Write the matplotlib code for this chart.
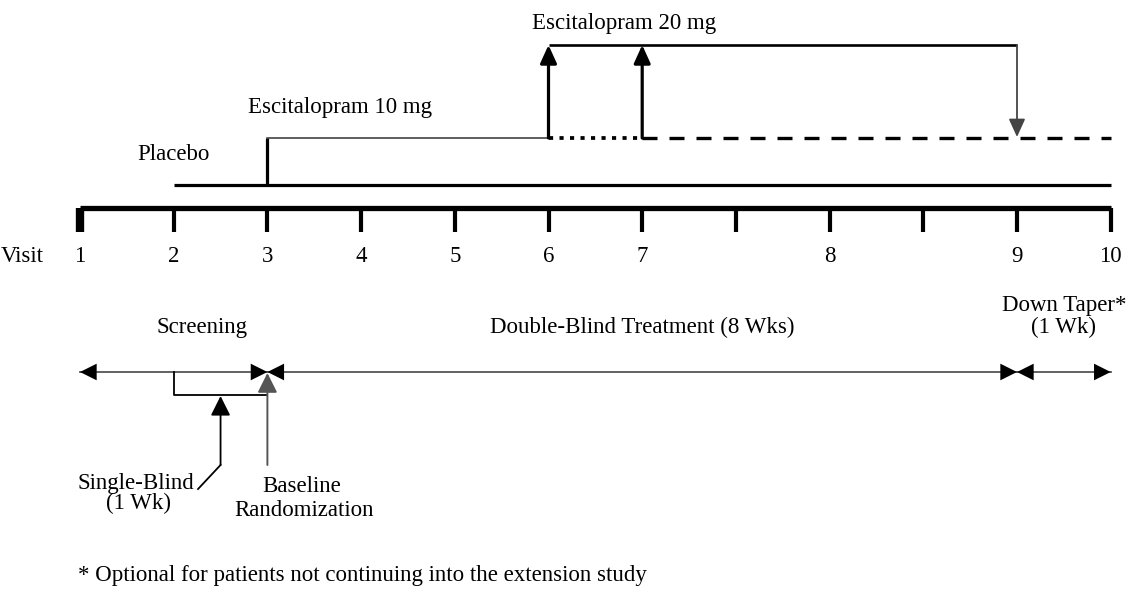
import matplotlib
matplotlib.use("Agg")
import matplotlib.pyplot as plt

plt.rcParams['font.family'] = ['Liberation Serif', 'DejaVu Serif']

# visit axis: 12 evenly spaced ticks, only some are numbered visits
tick_pos = list(range(12))
visit_pos = [0, 1, 2, 3, 4, 5, 6, 8, 10, 11]
visit_labels = ['1', '2', '3', '4', '5', '6', '7', '8', '9', '10']

# treatment arms (in tick units)
placebo_span = [1, 11]
esc10_start = 2
dose_up = [5, 6]          # optional increase to 20 mg
esc20_end = 10            # back to 10 mg at visit 9
study_end = 11

# study phases
phase_names = ['Screening', 'Double-Blind Treatment (8 Wks)', 'Down Taper*\n(1 Wk)']
phase_bounds = [(0, 2), (2, 10), (10, 11)]
phase_label_x = [1.3, 6.0, 10.5]
single_blind = (1, 2)

# vertical layout (pixel rows, top = 0)
y_20mg, y_10mg, y_plac, y_axis = 45, 138, 185, 208
y_phase = 372

fig = plt.figure(figsize=(11.31, 5.95), dpi=100)
ax = fig.add_axes([0, 0, 1, 1])
px = 93.7
ax.set_xlim(-80 / px, (1131 - 80) / px)
ax.set_ylim(595, 0)
ax.axis('off')

# axis with ticks
ax.plot([tick_pos[0], tick_pos[-1]], [y_axis, y_axis], color='black', lw=3.8, solid_capstyle='butt')
for t in tick_pos:
    ax.plot([t, t], [y_axis, 232], color='black', lw=6 if t == 0 else 3, solid_capstyle='butt')
for t, lab in zip(visit_pos, visit_labels):
    ax.text(t, 257, lab, ha='center', va='center', fontsize=16.5)
ax.text(-0.385, 257, 'Visit', ha='right', va='center', fontsize=16.5)

# placebo
ax.plot(placebo_span, [y_plac, y_plac], color='black', lw=2.3, solid_capstyle='butt')
ax.text(placebo_span[0], 155, 'Placebo', ha='center', va='center', fontsize=16.5)

# escitalopram 10 mg
ax.plot([esc10_start, esc10_start], [y_plac, y_10mg], color='black', lw=2.3, solid_capstyle='butt')
ax.plot([esc10_start, dose_up[0]], [y_10mg, y_10mg], color='#333333', lw=1.1)
ax.plot([dose_up[0], dose_up[1]], [y_10mg, y_10mg], color='black', lw=2.7, dashes=(1.1, 1.7))
ax.plot([dose_up[1], study_end], [y_10mg, y_10mg], color='black', lw=2.4, dashes=(4.5, 3.6))
ax.text(esc10_start - 0.21, 108, 'Escitalopram 10 mg', ha='left', va='center', fontsize=16.5)

# escitalopram 20 mg
ax.plot([dose_up[0], esc20_end], [y_20mg, y_20mg], color='black', lw=1.9, solid_capstyle='butt')
ax.text(dose_up[0] - 0.18, 23, 'Escitalopram 20 mg', ha='left', va='center', fontsize=16.5)
for t in dose_up:
    ax.annotate('', xy=(t, y_20mg), xytext=(t, y_10mg),
                arrowprops=dict(arrowstyle='-|>,head_length=0.55,head_width=0.25',
                                color='black', lw=2.3, shrinkA=0, shrinkB=0, mutation_scale=20))
ax.annotate('', xy=(esc20_end, y_10mg - 1), xytext=(esc20_end, y_20mg),
            arrowprops=dict(arrowstyle='-|>,head_length=0.55,head_width=0.25',
                            color='#444444', lw=1.3, shrinkA=0, shrinkB=0, mutation_scale=20))

# phases with double-headed arrows
for name, (a, b), lx in zip(phase_names, phase_bounds, phase_label_x):
    ax.plot([a, b], [y_phase, y_phase], color='#555555', lw=1.3)
    ax.annotate('', xy=(b, y_phase), xytext=(a, y_phase),
                arrowprops=dict(arrowstyle='<|-|>,head_length=0.6,head_width=0.3',
                                color='black', lw=0, shrinkA=0, shrinkB=0, mutation_scale=20))
    if '\n' in name:
        l1, l2 = name.split('\n')
        ax.text(lx, 305, l1, ha='center', va='center', fontsize=16.5)
        ax.text(lx, 327, l2, ha='center', va='center', fontsize=16.5)
    else:
        ax.text(lx, 327, name, ha='center', va='center', fontsize=16.5)

# single-blind bracket
sb_mid = sum(single_blind) / 2
ax.plot([single_blind[0], single_blind[0], single_blind[1]], [y_phase, 395, 395], color='black', lw=1.3)
ax.annotate('', xy=(sb_mid, 396), xytext=(sb_mid, 465),
            arrowprops=dict(arrowstyle='-|>,head_length=0.6,head_width=0.3',
                            color='black', lw=1.3, shrinkA=0, shrinkB=0, mutation_scale=20))
ax.plot([sb_mid, sb_mid - 0.24], [465, 489], color='black', lw=1.3)
ax.text(0.6, 484, 'Single-Blind', ha='center', va='center', fontsize=16.5)
ax.text(0.62, 503, '(1 Wk)', ha='center', va='center', fontsize=16.5)

# baseline randomization
ax.annotate('', xy=(single_blind[1], y_phase + 1), xytext=(single_blind[1], 465),
            arrowprops=dict(arrowstyle='-|>,head_length=0.6,head_width=0.3',
                            color='#555555', lw=1.4, shrinkA=0, shrinkB=0, mutation_scale=20))
ax.text(2.37, 487, 'Baseline', ha='center', va='center', fontsize=16.5)
ax.text(2.39, 510, 'Randomization', ha='center', va='center', fontsize=16.5)

ax.text(-0.02, 576, '* Optional for patients not continuing into the extension study',
        ha='left', va='center', fontsize=16.5)

fig.savefig('out.png', dpi=100)
